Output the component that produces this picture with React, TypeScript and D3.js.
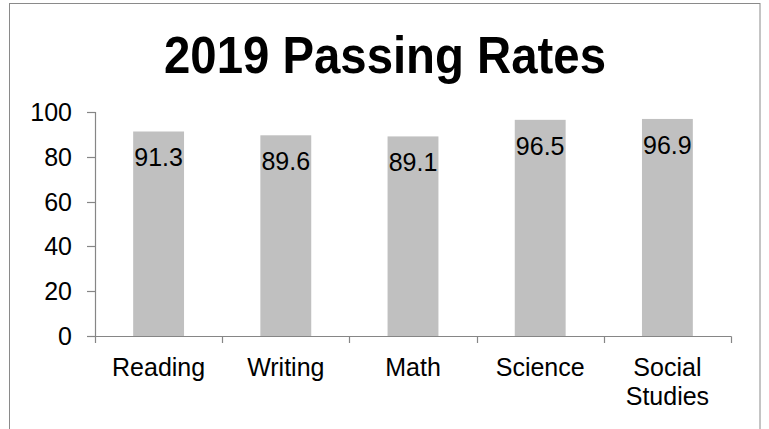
import React from "react";
import * as d3 from "d3";

const categories: string[][] = [["Reading"], ["Writing"], ["Math"], ["Science"], ["Social", "Studies"]];
const values: number[] = [91.3, 89.6, 89.1, 96.5, 96.9];
const yTicks: number[] = [0, 20, 40, 60, 80, 100];
const title = "2019 Passing Rates";

const W = 769;
const H = 429;
const FONT = "'Liberation Sans', Arial, sans-serif";
const AXIS = "#868686";

export default function App() {
  const keys = categories.map((c) => c.join(" "));
  const x = d3.scaleBand<string>().domain(keys).range([95, 731]).paddingInner(0.6).paddingOuter(0.3);
  const y = d3.scaleLinear().domain([0, 100]).range([336, 112]);
  const step = x.step();
  const x0 = 95;
  const boundaries = d3.range(keys.length + 1).map((i) => x0 + i * step);

  return (
    <svg width={W} height={H} style={{ position: "fixed", left: 0, top: 0, background: "#fff" }} fontFamily={FONT}>
      <rect x={0} y={0} width={W} height={H} fill="#fff" />
      <rect x={9.5} y={3.5} width={750.5} height={440} fill="none" stroke="#8a8a8a" strokeWidth={1} />
      <text x={385} y={73} textAnchor="middle" fontSize={52} fontWeight="bold" textLength={442} lengthAdjust="spacingAndGlyphs" fill="#000">
        {title}
      </text>
      {keys.map((k, i) => (
        <rect key={k} x={x(k)} y={y(values[i])} width={x.bandwidth()} height={y(0) - y(values[i])} fill="#c0c0c0" />
      ))}
      {keys.map((k, i) => (
        <text key={k + "l"} x={(x(k) as number) + x.bandwidth() / 2} y={y(values[i]) + 35} textAnchor="middle" fontSize={25} fill="#000">
          {values[i].toFixed(1)}
        </text>
      ))}
      {/* y axis */}
      <line x1={95.5} x2={95.5} y1={y(100)} y2={y(0)} stroke={AXIS} strokeWidth={1.2} />
      {yTicks.map((t) => (
        <g key={t}>
          <line x1={87} x2={95.5} y1={Math.round(y(t)) + 0.5} y2={Math.round(y(t)) + 0.5} stroke={AXIS} strokeWidth={1.2} />
          <text x={72} y={y(t) + 9} textAnchor="end" fontSize={25} fill="#000">
            {t}
          </text>
        </g>
      ))}
      {/* x axis */}
      <line x1={87} x2={731.5} y1={336.5} y2={336.5} stroke={AXIS} strokeWidth={1.2} />
      {boundaries.map((b, i) => (
        <line key={i} x1={Math.round(b) + 0.5} x2={Math.round(b) + 0.5} y1={336.5} y2={343} stroke={AXIS} strokeWidth={1.2} />
      ))}
      {categories.map((c, i) => (
        <text key={i} x={(x(keys[i]) as number) + x.bandwidth() / 2} y={376} textAnchor="middle" fontSize={25} fill="#000">
          {c.map((line, j) => (
            <tspan key={j} x={(x(keys[i]) as number) + x.bandwidth() / 2} dy={j === 0 ? 0 : 29}>
              {line}
            </tspan>
          ))}
        </text>
      ))}
    </svg>
  );
}
